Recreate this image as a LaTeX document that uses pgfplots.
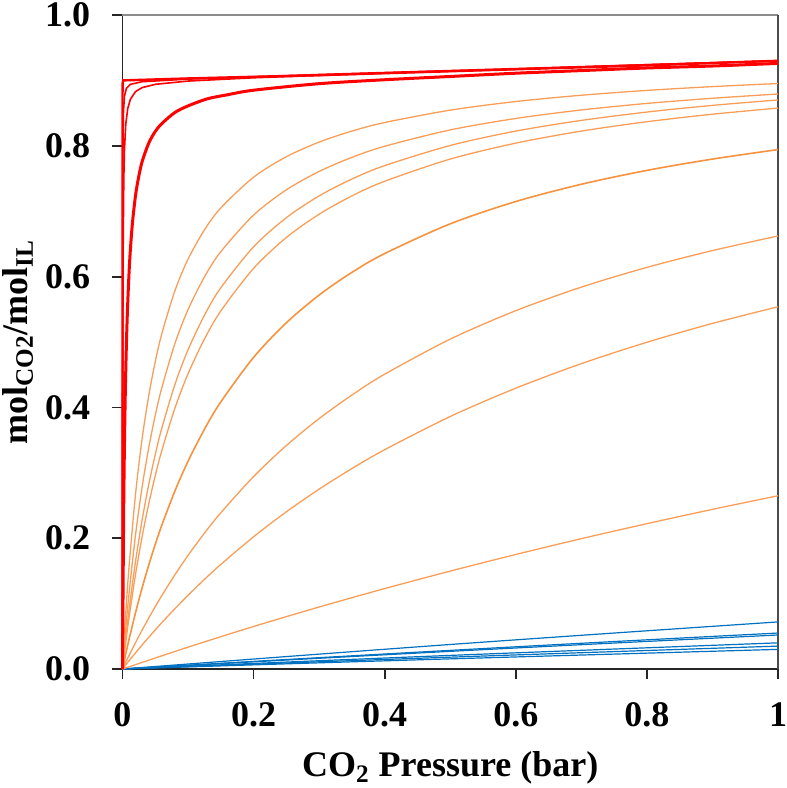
\documentclass[border=0pt]{standalone}
\usepackage{pgfplots}
\pgfplotsset{compat=1.18}
\usepackage{pgfplotstable}
\usepackage{fontspec}
\setmainfont{Liberation Serif}
\definecolor{cred}{RGB}{255,0,0}
\definecolor{corange}{RGB}{249,158,88}
\definecolor{corangedark}{RGB}{247,146,62}
\definecolor{cblue}{RGB}{0,112,192}

\pgfplotstableread{
P      o1     o2     o3     o4     o5     o6     o7
0      0      0      0      0      0      0      0
0.005  0.0855 0.0616 0.0475 0.0410 0.0232 0.0105 0.0063
0.01   0.1567 0.1157 0.0906 0.0787 0.0454 0.0207 0.0126
0.02   0.2686 0.2061 0.1654 0.1454 0.0866 0.0406 0.0248
0.03   0.3525 0.2786 0.2283 0.2026 0.1243 0.0596 0.0368
0.04   0.4178 0.3382 0.2819 0.2523 0.1588 0.0779 0.0484
0.05   0.4700 0.3879 0.3281 0.2958 0.1906 0.0954 0.0598
0.06   0.5127 0.4300 0.3683 0.3341 0.2199 0.1123 0.0709
0.08   0.5785 0.4977 0.4351 0.3989 0.2723 0.1441 0.0923
0.1    0.6267 0.5495 0.4881 0.4514 0.3177 0.1737 0.1127
0.125  0.6714 0.5995 0.5409 0.5045 0.3665 0.2077 0.1370
0.15   0.7050 0.6381 0.5829 0.5475 0.4084 0.2389 0.1599
0.2    0.7520 0.6941 0.6456 0.6126 0.4765 0.2943 0.2022
0.25   0.7833 0.7327 0.6901 0.6598 0.5294 0.3417 0.2404
0.3    0.8057 0.7608 0.7234 0.6954 0.5718 0.3829 0.2750
0.35   0.8225 0.7823 0.7492 0.7234 0.6065 0.4189 0.3065
0.4    0.8356 0.7993 0.7697 0.7458 0.6353 0.4508 0.3353
0.5    0.8545 0.8243 0.8005 0.7797 0.6807 0.5044 0.3861
0.6    0.8677 0.8418 0.8225 0.8041 0.7148 0.5479 0.4294
0.7    0.8773 0.8548 0.8388 0.8225 0.7412 0.5839 0.4669
0.8    0.8847 0.8648 0.8516 0.8368 0.7624 0.6141 0.4996
0.9    0.8905 0.8727 0.8618 0.8483 0.7797 0.6398 0.5284
1.0    0.8952 0.8792 0.8701 0.8577 0.7942 0.6621 0.5539
}\orangetable

\pgfplotstableread{
P    o8
0    0
0.1  0.0334
0.2  0.0650
0.3  0.0948
0.4  0.1230
0.5  0.1497
0.6  0.1751
0.7  0.1993
0.8  0.2222
0.9  0.2441
1.0  0.2649
}\orangelow

\pgfplotstableread{
P     b1     b2     b3     b4     b5     b6
0     0      0      0      0      0      0
0.25  0.0190 0.0145 0.0137 0.0106 0.0092 0.0079
0.5   0.0375 0.0285 0.0270 0.0208 0.0181 0.0155
0.75  0.0550 0.0420 0.0397 0.0305 0.0266 0.0228
1.0   0.0720 0.0550 0.0520 0.0400 0.0350 0.0300
}\bluetable

\begin{document}
\begin{tikzpicture}
\begin{axis}[
  scale only axis,
  width=327.75pt, height=327pt,
  xmin=0, xmax=1, ymin=0, ymax=1,
  clip=false,
  axis lines=left,
  axis line style={-, black!85, line width=0.9pt},
  tick align=outside,
  major tick length=5pt,
  tick style={black!85, line width=0.9pt},
  xtick={0,0.2,0.4,0.6,0.8,1},
  xticklabels={0,0.2,0.4,0.6,0.8,1},
  ytick={0,0.2,0.4,0.6,0.8,1},
  yticklabels={0.0,0.2,0.4,0.6,0.8,1.0},
  ticklabel style={font=\fontsize{18}{18}\selectfont\bfseries},
  xticklabel style={inner sep=0pt, anchor=north, yshift=-11.5pt},
  yticklabel style={inner sep=0pt, anchor=east, xshift=-11pt},
  label style={font=\fontsize{18}{18}\selectfont\bfseries},
  xlabel={CO\textsubscript{2} Pressure (bar)},
  ylabel={mol\textsubscript{CO2}/mol\textsubscript{IL}},
  xlabel style={at={(axis description cs:0.5,-0.1651)}, anchor=base, inner sep=0pt},
  ylabel style={at={(axis description cs:-0.1594,0.5)}, anchor=center, inner sep=0pt},
]
\coordinate (ll) at (rel axis cs:0,0);
\coordinate (ur) at (rel axis cs:1,1);
\draw[black!45, line width=0.9pt] (rel axis cs:0,1) -- (rel axis cs:1,1);
\draw[black!70, line width=0.9pt] (rel axis cs:1,0) -- (rel axis cs:1,1);

% blue
\foreach \c in {b1,b2,b3,b4,b5,b6}{
  \addplot[cblue, line width=0.6pt, smooth] table[x=P, y=\c] {\bluetable};
}
% orange
\addplot[corange, line width=0.65pt, smooth] table[x=P, y=o8] {\orangelow};
\foreach \c in {o1,o2,o3,o4,o6,o7}{
  \addplot[corange, line width=0.65pt, smooth] table[x=P, y=\c] {\orangetable};
}
\addplot[corangedark, line width=0.8pt, smooth] table[x=P, y=o5] {\orangetable};

% red
\addplot[cred, line width=1.5pt, smooth] coordinates {
(0,0) (0.002,0.263) (0.004,0.407) (0.006,0.498) (0.008,0.560) (0.011,0.625)
(0.015,0.680) (0.02,0.725) (0.025,0.754) (0.03,0.776) (0.04,0.804) (0.05,0.822)
(0.06,0.834) (0.08,0.851) (0.1,0.861) (0.13,0.872) (0.16,0.878) (0.2,0.885)
(0.3,0.895) (0.4,0.901) (0.5,0.906) (0.6,0.911) (0.7,0.915) (0.8,0.919)
(0.9,0.922) (1.0,0.926)
};
\addplot[cred, line width=0.8pt] coordinates {
(0,0) (0.0002,0.300) (0.0005,0.500) (0.001,0.643) (0.002,0.750) (0.003,0.794)
(0.005,0.833) (0.008,0.857) (0.012,0.871) (0.02,0.883) (0.03,0.889) (0.05,0.894)
(0.1,0.899) (0.2,0.904) (0.4,0.911) (0.6,0.917) (0.8,0.924) (1.0,0.930)
};
\addplot[cred, line width=0.8pt] coordinates {
(0,0) (0.00005,0.3375) (0.0001,0.491) (0.0002,0.635) (0.0004,0.745) (0.0008,0.815)
(0.0015,0.853) (0.003,0.876) (0.006,0.888) (0.012,0.894) (0.03,0.898) (0.1,0.902)
(0.3,0.909) (0.6,0.918) (1.0,0.930)
};
\addplot[cred, line width=1.2pt] coordinates {
(0,0) (0.00002,0.850) (0.0001,0.895) (0.001,0.900) (0.1,0.903) (0.3,0.908)
(0.5,0.914) (0.8,0.923) (1.0,0.930)
};
\end{axis}
\pgfresetboundingbox
\path ([shift={(-61.25pt,-59.5pt)}]ll) rectangle ([shift={(4.5pt,7.5pt)}]ur);
\end{tikzpicture}
\end{document}
